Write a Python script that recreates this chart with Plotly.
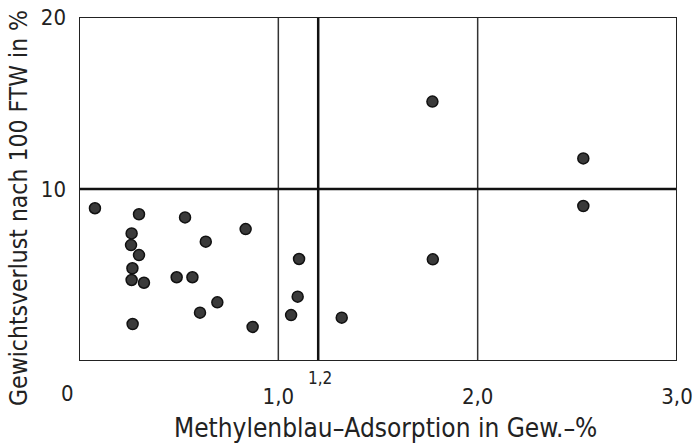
import plotly.graph_objects as go

# Methylene blue adsorption (wt.-%) vs. weight loss after 100 freeze-thaw cycles (%)
mb_adsorption = [0.080, 0.301, 0.532, 0.836, 0.264, 0.636, 0.261, 0.301, 1.104, 0.268,
                 0.490, 0.569, 0.264, 0.326, 1.097, 0.694, 0.607, 1.064, 1.318, 0.269,
                 0.871, 1.773, 2.530, 2.530, 1.775]
weight_loss = [8.88, 8.53, 8.35, 7.67, 7.42, 6.94, 6.74, 6.16, 5.93, 5.39,
               4.87, 4.87, 4.71, 4.55, 3.74, 3.41, 2.81, 2.67, 2.52, 2.15,
               1.98, 15.08, 11.78, 9.01, 5.91]

x_ticks = [1.0, 2.0, 3.0]
y_ticks = [10, 20]
x_thin_limits = [1.0, 2.0]
x_limit = 1.2
y_limit = 10

FONT = "DejaVu Sans Condensed, Liberation Sans Narrow, sans-serif"
INK = "#222"

fig = go.Figure()
fig.add_trace(go.Scatter(
    x=mb_adsorption, y=weight_loss, mode="markers",
    marker=dict(size=11, color="#3a3a3a", line=dict(color="#111", width=1.5)),
    showlegend=False, cliponaxis=False,
))

shapes = []
for xv in x_thin_limits:
    shapes.append(dict(type="line", xref="x", yref="y", x0=xv, x1=xv, y0=0, y1=20,
                       line=dict(color="#333", width=1.5), layer="below"))
shapes.append(dict(type="line", xref="x", yref="y", x0=x_limit, x1=x_limit, y0=0, y1=20,
                   line=dict(color="#111", width=2.5), layer="below"))
shapes.append(dict(type="line", xref="x", yref="y", x0=0, x1=3.0, y0=y_limit, y1=y_limit,
                   line=dict(color="#111", width=2.5), layer="below"))
shapes.append(dict(type="rect", xref="x", yref="y", x0=0, x1=3.0, y0=0, y1=20,
                   line=dict(color=INK, width=2), layer="above"))

annotations = [
    dict(x=0, y=0, xref="x", yref="y", text="0", showarrow=False,
         xanchor="center", yanchor="middle",
         xshift=-12, yshift=-32, font=dict(size=22, family=FONT, color=INK)),
    dict(x=x_limit, y=0, xref="x", yref="y", text="1,2", showarrow=False,
         xanchor="center", yanchor="middle",
         xshift=2, yshift=-17, font=dict(size=17, family=FONT, color=INK)),
    dict(x=0.5, y=0, xref="paper", yref="paper", text="Methylenblau–Adsorption in Gew.–%",
         showarrow=False, xanchor="center", yanchor="middle",
         xshift=7, yshift=-67, font=dict(size=26, family=FONT, color=INK)),
    dict(x=0, y=0.5, xref="paper", yref="paper", text="Gewichtsverlust nach 100 FTW in %",
         showarrow=False, textangle=-90, xanchor="center", yanchor="middle",
         xshift=-61, yshift=-19, font=dict(size=24.5, family=FONT, color=INK)),
]

fig.update_layout(
    width=694, height=445,
    margin=dict(l=79, r=17, t=17, b=84, autoexpand=False),
    plot_bgcolor="white", paper_bgcolor="white",
    separators=",.",
    shapes=shapes, annotations=annotations,
    xaxis=dict(range=[0, 3.0], tickvals=x_ticks, tickformat=".1f", showgrid=False,
               zeroline=False, showline=False, ticks="", ticklabelstandoff=20,
               automargin=False,
               tickfont=dict(size=22, family=FONT, color=INK)),
    yaxis=dict(range=[0, 20], tickvals=y_ticks, showgrid=False, zeroline=False,
               showline=False, ticks="", ticklabelstandoff=12, automargin=False,
               tickfont=dict(size=22, family=FONT, color=INK)),
)

fig.write_html("out.html")
